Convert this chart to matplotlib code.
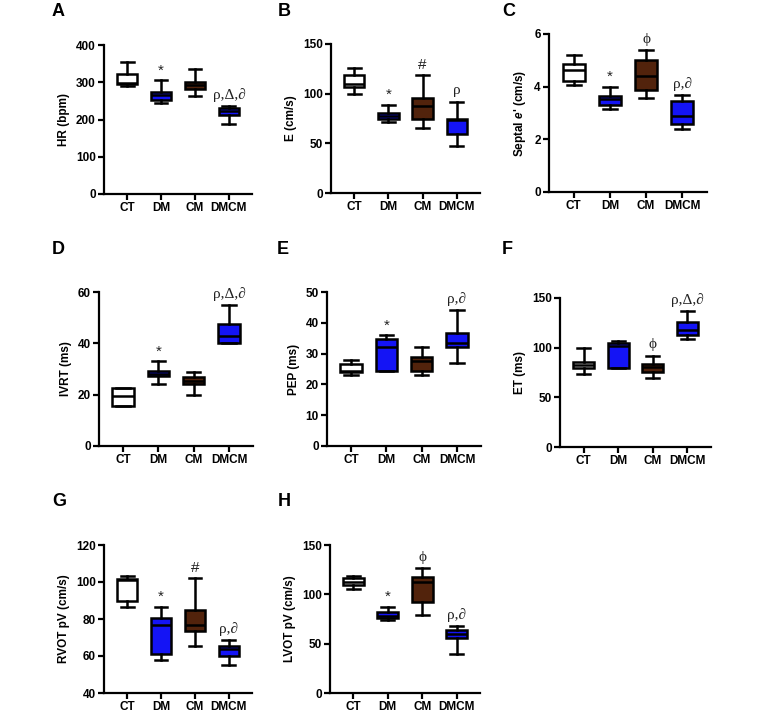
import numpy as np
import matplotlib
matplotlib.use("Agg")
import matplotlib.pyplot as plt

plt.rcParams['font.family'] = ['Liberation Sans', 'DejaVu Sans']
plt.rcParams['font.weight'] = 'bold'
plt.rcParams['axes.labelweight'] = 'bold'
plt.rcParams['mathtext.fontset'] = 'custom'
plt.rcParams['mathtext.it'] = 'Liberation Sans:italic:bold'

groups = ["CT", "DM", "CM", "DMCM"]
colors = ["#ffffff", "#1414f5", "#52230c", "#1414f5"]

# five-number summaries per group: whislo, q1, med, q3, whishi
hr = [[289, 295, 298, 322, 355], [245, 252, 265, 275, 305],
      [262, 283, 292, 300, 335], [188, 213, 222, 230, 237]]
e_vel = [[100, 107, 110, 119, 126], [71, 74.5, 78, 80.5, 89],
         [65, 74.5, 88, 96, 119], [47, 59, 73, 74.5, 92]]
septal = [[4.05, 4.23, 4.62, 4.86, 5.19], [3.16, 3.30, 3.53, 3.66, 3.99],
          [3.57, 3.89, 4.39, 5.03, 5.38], [2.39, 2.59, 2.87, 3.47, 3.67]]
ivrt = [[15.4, 15.4, 19.3, 22.5, 22.5], [24.1, 27.1, 28.1, 29.3, 33],
        [20, 24, 25.5, 26.7, 29], [40.1, 40.1, 42.7, 47.5, 54.8]]
pep = [[22.9, 23.9, 24.5, 26.7, 28], [24.3, 24.3, 32.1, 34.8, 36],
       [22.9, 24.3, 27.6, 28.8, 32.1], [26.9, 32.1, 33.4, 36.7, 44]]
et = [[73.8, 79.2, 82.6, 85.6, 100], [79.5, 79.5, 101.3, 104.7, 106.4],
      [69.8, 75.2, 80.2, 83.2, 92], [109, 112.4, 118, 125.5, 136.6]]
rvot = [[86.4, 90, 101, 101.7, 103.3], [57.6, 61, 76.5, 80.4, 86.6],
        [65.5, 73.3, 76.7, 85, 102.2], [55.3, 59.8, 63.7, 65.5, 68.4]]
lvot = [[105.5, 109.5, 113, 116.3, 118.6], [73.5, 75.8, 78.2, 81.6, 87.6],
        [79.2, 92.7, 112, 118, 126.4], [39.4, 55.6, 60, 64, 68]]

marks_a = ["", "*", "", "ρ,Δ,∂"]
marks_b = ["", "*", "#", "ρ"]
marks_c = ["", "*", "ϕ", "ρ,∂"]
marks_d = ["", "*", "", "ρ,Δ,∂"]
marks_e = ["", "*", "", "ρ,∂"]
marks_f = ["", "", "ϕ", "ρ,Δ,∂"]
marks_g = ["", "*", "#", "ρ,∂"]
marks_h = ["", "*", "ϕ", "ρ,∂"]

W, H = 763, 719
fig = plt.figure(figsize=(W / 100, H / 100), dpi=100)


def px_axes(x0, x1, y0, y1):
    return fig.add_axes([x0 / W, 1 - y1 / H, (x1 - x0) / W, (y1 - y0) / H])


panels = [
    ("A", (104, 252, 45, 194), hr, marks_a, "HR (bpm)", [0, 100, 200, 300, 400], (52, 12)),
    ("B", (331, 480, 44, 193), e_vel, marks_b, "E (cm/s)", [0, 50, 100, 150], (278, 12)),
    ("C", (549, 707, 34, 192), septal, marks_c, "Septal $e$' (cm/s)", [0, 2, 4, 6], (502, 12)),
    ("D", (99, 253, 292, 446), ivrt, marks_d, "IVRT (ms)", [0, 20, 40, 60], (52, 249)),
    ("E", (327, 481, 292, 446), pep, marks_e, "PEP (ms)", [0, 10, 20, 30, 40, 50], (277, 249)),
    ("F", (560, 711, 298, 447), et, marks_f, "ET (ms)", [0, 50, 100, 150], (502, 249)),
    ("G", (104, 252, 545, 693), rvot, marks_g, "RVOT pV (cm/s)", [40, 60, 80, 100, 120], (52, 501)),
    ("H", (330, 480, 545, 693), lvot, marks_h, "LVOT pV (cm/s)", [0, 50, 100, 150], (278, 501)),
]

lw = 1.8
for letter, rect, data, marks, ylabel, yticks, lpos in panels:
    ax = px_axes(*rect)
    stats = []
    for g, s in zip(groups, data):
        stats.append(dict(label=g, whislo=s[0], q1=s[1], med=s[2], q3=s[3], whishi=s[4]))
    bp = ax.bxp(stats, positions=range(4), widths=0.6, patch_artist=True,
                showfliers=False,
                boxprops=dict(linewidth=lw, edgecolor="black"),
                whiskerprops=dict(linewidth=lw, color="black"),
                capprops=dict(linewidth=lw, color="black"),
                medianprops=dict(linewidth=lw, color="black"),
                capwidths=0.38)
    for patch, c in zip(bp["boxes"], colors):
        patch.set_facecolor(c)
    for i, (m, s) in enumerate(zip(marks, data)):
        if not m:
            continue
        if m in ("*", "#"):
            fam = ['Liberation Sans']
            size = 11
            off = 2
        else:
            fam = ['Liberation Serif', 'DejaVu Serif']
            size = 11
            off = 3
        ax.annotate(m, (i, s[4]), xytext=(0, off), textcoords="offset points",
                    ha="center", va="bottom", fontsize=size, family=fam,
                    fontweight="normal", color="#222222")
    ax.set_xlim(-0.68, 3.68)
    ax.set_ylim(yticks[0], yticks[-1])
    ax.set_yticks(yticks)
    ax.set_xticks(range(4))
    ax.set_xticklabels(groups)
    ax.spines["top"].set_visible(False)
    ax.spines["right"].set_visible(False)
    ax.spines["left"].set_linewidth(1.6)
    ax.spines["bottom"].set_linewidth(1.6)
    ax.tick_params(width=1.6, length=4, labelsize=8.5, pad=2)
    for t in ax.get_xticklabels() + ax.get_yticklabels():
        t.set_fontweight("bold")
    ax.set_ylabel(ylabel, fontsize=8.5, fontweight="bold", labelpad=4)
    fig.text(lpos[0] / W, 1 - lpos[1] / H, letter, fontsize=13, fontweight="bold",
             ha="left", va="center")

fig.savefig("out.png", dpi=100)
